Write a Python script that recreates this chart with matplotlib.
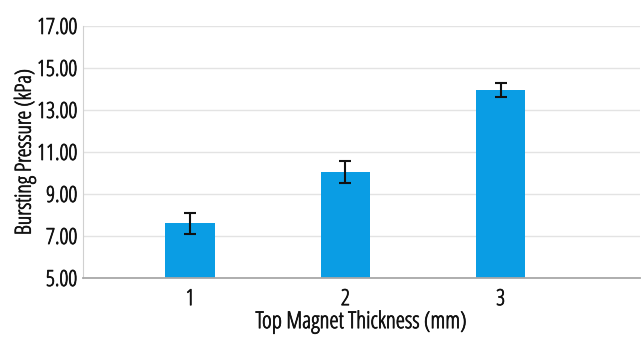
import matplotlib
matplotlib.use("Agg")
import matplotlib.pyplot as plt
import matplotlib.patheffects as pe

# Data
thickness = [1, 2, 3]
pressure = [7.60, 10.05, 13.95]
pressure_err = [0.50, 0.52, 0.32]
y_ticks = [5, 7, 9, 11, 13, 15, 17]

plt.rcParams["font.family"] = ["Open Sans", "DejaVu Sans"]
plt.rcParams["font.stretch"] = "condensed"
TEXT = "#111111"
heavier = [pe.withStroke(linewidth=0.55, foreground=TEXT)]

fig = plt.figure(figsize=(6.42, 3.37), dpi=100)
ax = fig.add_axes([0.1293, 0.175, 0.868, 0.748])

ax.bar(thickness, pressure, width=0.32, color="#0A9DE4", zorder=2,
       yerr=pressure_err,
       error_kw=dict(ecolor=TEXT, elinewidth=1.5, capsize=4.2, capthick=1.5))

ax.set_ylim(5, 17)
ax.set_xlim(0.31, 3.9)
ax.set_yticks(y_ticks)
ax.set_yticklabels([f"{v:.2f}" for v in y_ticks])
ax.set_xticks(thickness)
ax.set_xticklabels([str(t) for t in thickness])
ax.yaxis.grid(True, color="#E3E3E3", linewidth=1.0, zorder=0)
ax.set_axisbelow(True)

for s in ["top", "right"]:
    ax.spines[s].set_visible(False)
ax.spines["left"].set_color("#D0D0D0")
ax.spines["bottom"].set_color("#A8A8A8")
ax.spines["bottom"].set_linewidth(1.3)
ax.tick_params(axis="both", length=0, labelsize=16, colors=TEXT)
ax.tick_params(axis="x", pad=8)
ax.tick_params(axis="y", pad=4)

ax.set_ylabel("Bursting Pressure (kPa)", fontsize=16, color=TEXT, labelpad=1)
ax.set_xlabel("Top Magnet Thickness (mm)", fontsize=16.8, color=TEXT, labelpad=0)

for t in ax.get_xticklabels() + ax.get_yticklabels() + [ax.xaxis.label, ax.yaxis.label]:
    t.set_path_effects(heavier)

fig.savefig("out.png", dpi=100)
